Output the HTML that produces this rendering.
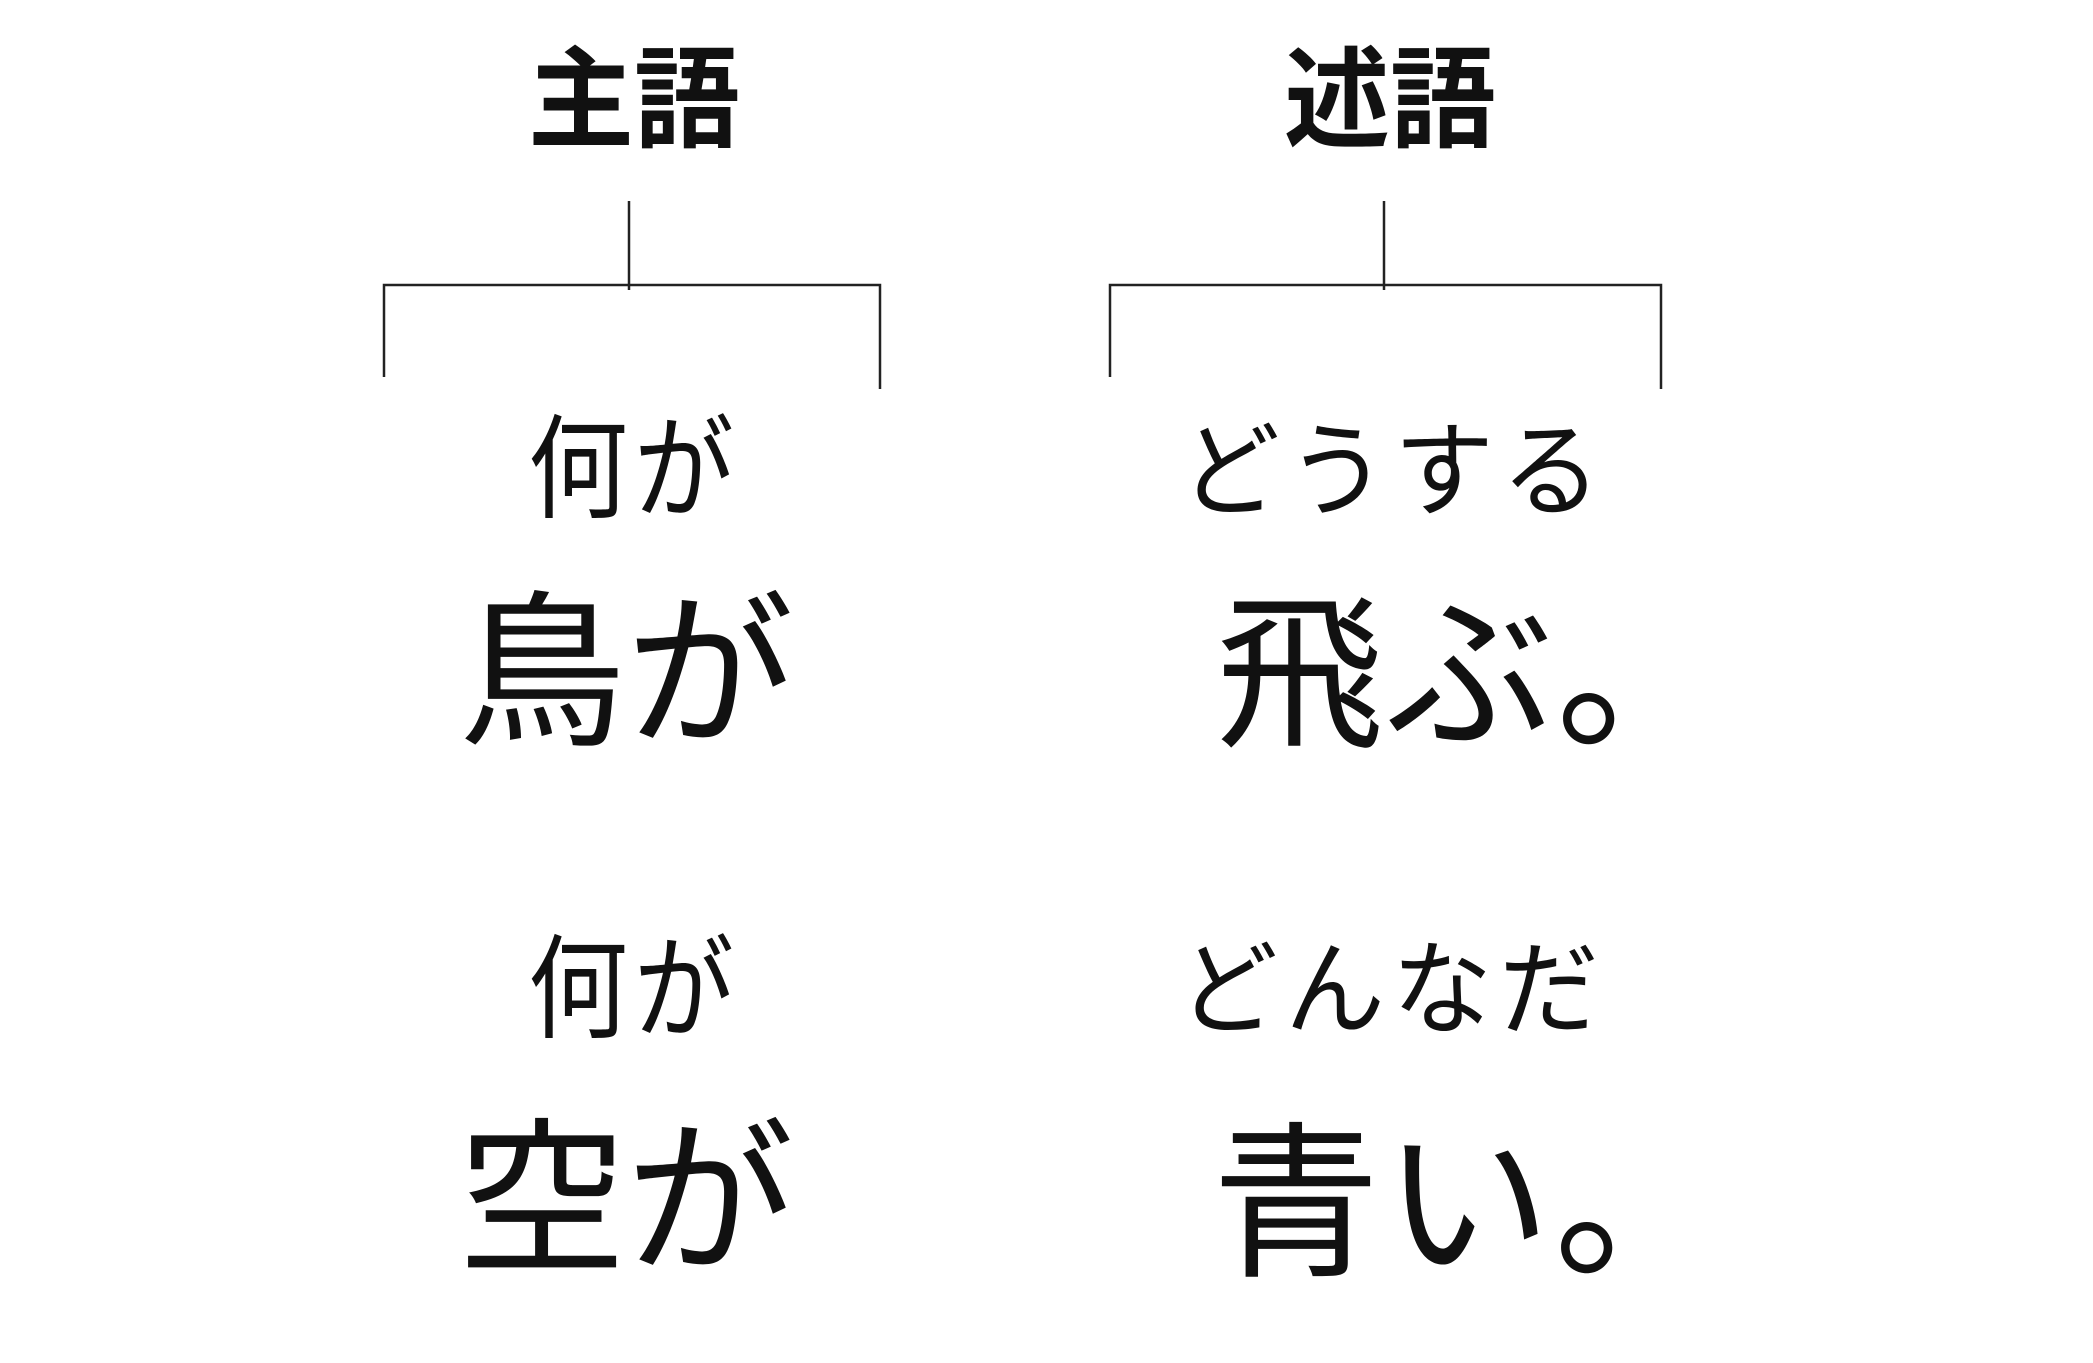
<!DOCTYPE html>
<html><head><meta charset="utf-8"><style>
html,body{margin:0;padding:0;background:#fff;}
body{width:2093px;height:1363px;position:relative;overflow:hidden;font-family:"Liberation Sans","Noto Sans CJK JP",sans-serif;color:#111;}
.t{position:absolute;line-height:1;white-space:nowrap;}
.h{font-weight:bold;font-size:106px;transform:scaleY(1.04);transform-origin:top left;}
.s{font-size:100px;}
.b{font-size:168px;}
</style></head><body>
<div class="t h" style="left:528px;top:46px;">主語</div>
<div class="t h" style="left:1284px;top:46px;">述語</div>
<svg width="2093" height="1363" style="position:absolute;left:0;top:0" fill="none" stroke="#222" stroke-width="2.5">
<path d="M629 201V290M384 377V285H880V389"/>
<path d="M1384 201V290M1110 377V285H1661V389"/>
</svg>
<div class="t s" style="left:528px;top:414px;letter-spacing:6px;transform:scaleY(1.13);transform-origin:top left;">何が</div>
<div class="t s" style="left:1180px;top:420px;letter-spacing:7px;transform:scaleY(1.04);transform-origin:top left;">どうする</div>
<div class="t b" style="left:458px;top:590px;">鳥が</div>
<div class="t b" style="left:1216px;top:592px;letter-spacing:2px;">飛ぶ<span>。</span></div>
<div class="t s" style="left:528px;top:934px;letter-spacing:6px;transform:scaleY(1.13);transform-origin:top left;">何が</div>
<div class="t s" style="left:1178px;top:939px;letter-spacing:7px;transform:scaleY(1.03);transform-origin:top left;">どんなだ</div>
<div class="t b" style="left:458px;top:1117px;">空が</div>
<div class="t b" style="left:1212px;top:1121px;letter-spacing:3px;">青い<span>。</span></div>
</body></html>
